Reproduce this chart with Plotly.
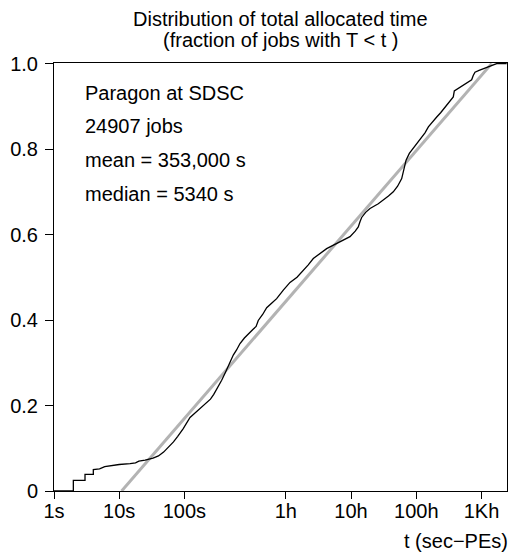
import plotly.graph_objects as go

# Empirical CDF of total allocated time (sec-PEs), Paragon at SDSC
time_sec = [
    1, 1.98, 1.98, 2.99, 2.99, 4.01, 4.01, 5.0, 6.0, 7.9, 10, 14.7, 17.8, 20, 25,
    33, 40, 48, 56, 68, 79, 96, 122, 158, 200, 251, 282, 331, 373, 427, 472,
    562, 631, 713, 832, 955, 1122, 1259, 1358, 1585, 1828, 2239, 2600, 3289,
    4169, 5340, 6668, 7943, 9484, 12020, 15200, 17100, 21680, 24380, 28180,
    34670, 41690, 46450, 49320, 52360, 60260, 70310, 94190, 112200, 134900,
    160000, 186200, 215300, 229100, 251200, 281800, 316200, 365600, 416900,
    489800, 552100, 621300, 741300, 851100, 993100, 1148000, 1331000,
    1380000, 1585000, 1897000, 2239000, 2547000, 2692000, 2864000, 3311000,
    3837000, 4467000, 5164000, 5754000, 6166000, 8770000,
]
frac_jobs = [
    0.0, 0.0, 0.025, 0.025, 0.039, 0.039, 0.050, 0.052, 0.057, 0.060, 0.062,
    0.064, 0.066, 0.070, 0.072, 0.077, 0.082, 0.091, 0.101, 0.115, 0.128,
    0.146, 0.172, 0.188, 0.201, 0.215, 0.226, 0.244, 0.259, 0.278, 0.294,
    0.318, 0.330, 0.345, 0.358, 0.368, 0.378, 0.385, 0.399, 0.413, 0.429,
    0.441, 0.450, 0.470, 0.488, 0.500, 0.516, 0.529, 0.544, 0.556, 0.567,
    0.571, 0.579, 0.583, 0.589, 0.595, 0.608, 0.618, 0.630, 0.640, 0.652,
    0.661, 0.672, 0.680, 0.690, 0.700, 0.713, 0.731, 0.752, 0.774, 0.790,
    0.800, 0.813, 0.825, 0.838, 0.852, 0.862, 0.875, 0.885, 0.897, 0.908,
    0.922, 0.936, 0.942, 0.949, 0.955, 0.962, 0.972, 0.980, 0.984, 0.988,
    0.992, 0.996, 0.998, 1.0, 1.0,
]

# Log-uniform model: F = 0 at t_lo, F = 1 at t_hi
model_t = [10.9, 5.16e6]
model_f = [0.0, 1.0]

x_tick_vals = [1, 10, 100, 3600, 36000, 360000, 3600000]
x_tick_text = ["1s", "10s", "100s", "1h", "10h", "100h", "1Kh"]
y_tick_vals = [0, 0.2, 0.4, 0.6, 0.8, 1.0]
y_tick_text = ["0", "0.2", "0.4", "0.6", "0.8", "1.0"]

stats_lines = ["Paragon at SDSC", "24907 jobs", "mean = 353,000 s", "median = 5340 s"]

FONT = "Liberation Sans, Arial, Helvetica, sans-serif"

fig = go.Figure()
fig.add_trace(go.Scatter(
    x=model_t, y=model_f, mode="lines",
    line=dict(color="#b3b3b3", width=3), hoverinfo="skip", showlegend=False,
))
fig.add_trace(go.Scatter(
    x=time_sec, y=frac_jobs, mode="lines",
    line=dict(color="black", width=1.3), showlegend=False,
))

fig.update_xaxes(
    type="log", range=[0, 6.948],
    tickvals=x_tick_vals, ticktext=x_tick_text,
    ticks="outside", ticklen=7, tickwidth=1, tickcolor="black",
    ticklabelstandoff=-5,
    showline=True, linecolor="black", linewidth=1, mirror=True,
    showgrid=False, zeroline=False,
    tickfont=dict(family=FONT, size=20, color="black"),
)
fig.update_yaxes(
    range=[0, 1.0014],
    tickvals=y_tick_vals, ticktext=y_tick_text,
    ticks="outside", ticklen=8, tickwidth=1, tickcolor="black",
    ticklabelstandoff=3,
    showline=True, linecolor="black", linewidth=1, mirror=True,
    showgrid=False, zeroline=False,
    tickfont=dict(family=FONT, size=20, color="black"),
)

annotations = []
for i, txt in enumerate(stats_lines):
    annotations.append(dict(
        text=txt, xref="paper", yref="paper",
        x=0.064, y=0.9305 - i * 0.0785, xanchor="left", yanchor="middle",
        showarrow=False, font=dict(family=FONT, size=20, color="black"),
    ))
annotations.append(dict(
    text="Distribution of total allocated time", xref="paper", yref="paper",
    x=0.5, y=1.1037, xanchor="center", yanchor="middle", showarrow=False,
    font=dict(family=FONT, size=20, color="black"),
))
annotations.append(dict(
    text="(fraction of jobs with T < t )", xref="paper", yref="paper",
    x=0.5, y=1.0545, xanchor="center", yanchor="middle", showarrow=False,
    font=dict(family=FONT, size=20, color="black"),
))
annotations.append(dict(
    text="t (sec\u2212PEs)", xref="paper", yref="paper",
    x=1.0073, y=-0.1177, xanchor="right", yanchor="middle", showarrow=False,
    font=dict(family=FONT, size=20, color="black"),
))

fig.update_layout(
    width=512, height=554,
    margin=dict(l=54, r=5, t=63, b=63),
    paper_bgcolor="white", plot_bgcolor="white",
    annotations=annotations,
    font=dict(family=FONT, size=20, color="black"),
)

fig.write_html("out.html")
